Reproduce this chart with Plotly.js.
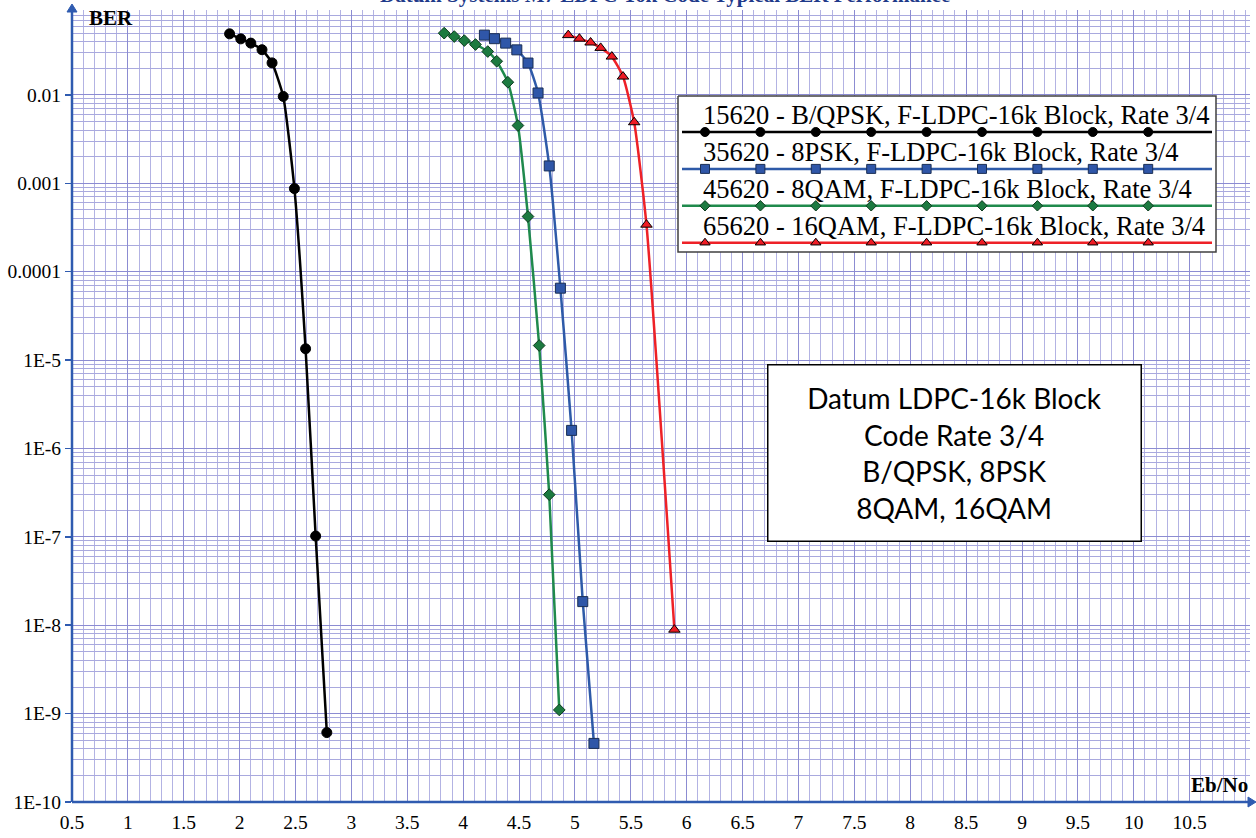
<!DOCTYPE html>
<html>
<head>
<meta charset="utf-8">
<script src="https://cdn.plot.ly/plotly-3.0.1.min.js"></script>
<style>
html,body{margin:0;padding:0;background:#fff;}
#chart{width:1256px;height:838px;}
</style>
</head>
<body>
<div id="chart"></div>
<script>
// ---------------- data ----------------
const seriesNames = [
  "15620 - B/QPSK, F-LDPC-16k Block, Rate 3/4",
  "35620 - 8PSK, F-LDPC-16k Block, Rate 3/4",
  "45620 - 8QAM, F-LDPC-16k Block, Rate 3/4",
  "65620 - 16QAM, F-LDPC-16k Block, Rate 3/4"
];
const bqpskX = [1.91, 2.01, 2.10, 2.20, 2.29, 2.39, 2.49, 2.59, 2.68, 2.78];
const bqpskY = [0.049, 0.043, 0.0385, 0.0324, 0.023, 0.0096, 0.00087, 1.34e-5, 1.02e-7, 6.1e-10];
const psk8X = [4.19, 4.28, 4.38, 4.48, 4.58, 4.67, 4.77, 4.87, 4.97, 5.07, 5.17];
const psk8Y = [0.0474, 0.0432, 0.0385, 0.0323, 0.0229, 0.0105, 0.00157, 6.5e-5, 1.6e-6, 1.85e-8, 4.6e-10];
const qam8X = [3.83, 3.92, 4.01, 4.11, 4.22, 4.30, 4.40, 4.49, 4.58, 4.68, 4.77, 4.86];
const qam8Y = [0.0499, 0.0457, 0.0411, 0.0371, 0.0309, 0.024, 0.0139, 0.0045, 0.00042, 1.46e-5, 3.0e-7, 1.1e-9];
const qam16X = [4.94, 5.04, 5.14, 5.23, 5.33, 5.43, 5.53, 5.64, 5.89];
const qam16Y = [0.0474, 0.0432, 0.0391, 0.034, 0.0271, 0.0161, 0.0049, 0.00034, 8.9e-9];

const xTickVals = [0.5,1,1.5,2,2.5,3,3.5,4,4.5,5,5.5,6,6.5,7,7.5,8,8.5,9,9.5,10,10.5];
const xTickText = ["0.5","1","1.5","2","2.5","3","3.5","4","4.5","5","5.5","6","6.5","7","7.5","8","8.5","9","9.5","10","10.5"];
const yTickVals = [1e-2,1e-3,1e-4,1e-5,1e-6,1e-7,1e-8,1e-9,1e-10];
const yTickText = ["0.01","0.001","0.0001","1E-5","1E-6","1E-7","1E-8","1E-9","1E-10"];

const titleText = "Datum Systems M7 LDPC-16k Code Typical BER Performance";
const boxText = ["Datum LDPC-16k Block","Code Rate 3/4","B/QPSK, 8PSK","8QAM, 16QAM"];

// ---------------- styles ----------------
const W = 1256, H = 838;
const M = {l:72, r:6, t:10, b:36};
const PX0 = M.l, PX1 = W - M.r, PY0 = M.t, PY1 = H - M.b;
const AXIS_BLUE = "#2f5bb0";
const SERIF = "Liberation Serif, Times New Roman, serif";

const styles = [
  {line:"#000000", fill:"#000000", edge:"#000000", symbol:"circle", size:10},
  {line:"#2e5aa8", fill:"#2f56a8", edge:"#1b2f55", symbol:"square", size:10},
  {line:"#1f8a4c", fill:"#1c7a40", edge:"#0d3b1e", symbol:"diamond", size:9},
  {line:"#ee2127", fill:"#ee1c24", edge:"#000000", symbol:"triangle-up", size:10}
];
const xs = [bqpskX, psk8X, qam8X, qam16X];
const ys = [bqpskY, psk8Y, qam8Y, qam16Y];

const traces = [];
// legend box as a filled trace on the overlay (pixel) axes, so it sits above the grid
const LB = {x0:678, x1:1216, y0:96, y1:252};
traces.push({
  x:[LB.x0,LB.x1,LB.x1,LB.x0,LB.x0], y:[LB.y0,LB.y0,LB.y1,LB.y1,LB.y0],
  xaxis:"x2", yaxis:"y2", mode:"lines", fill:"toself", fillcolor:"#ffffff",
  line:{color:"#404040", width:1.5}, hoverinfo:"skip", showlegend:false
});
// data traces
for (let i=0;i<4;i++){
  const s = styles[i];
  traces.push({
    x: xs[i], y: ys[i], name: seriesNames[i], type:"scatter", mode:"lines+markers",
    line:{color:s.line, width:2.5, shape:"spline", smoothing:0.5},
    marker:{symbol:s.symbol, size:s.size, color:s.fill, line:{color:s.edge, width:1}},
    showlegend:false
  });
}
// custom legend samples
const legLineX0 = 682, legLineX1 = 1212, legMk0 = 705, legMkStep = 55.4, legY0 = 132, legStep = 36.9;
const annotations = [];
for (let i=0;i<4;i++){
  const s = styles[i];
  const ly = legY0 + i*legStep;
  traces.push({x:[legLineX0, legLineX1], y:[ly, ly], xaxis:"x2", yaxis:"y2", mode:"lines",
    line:{color:s.line, width:2.5}, hoverinfo:"skip", showlegend:false});
  const mx = [], my = [];
  for (let k=0;k<9;k++){ mx.push(legMk0 + k*legMkStep); my.push(ly); }
  traces.push({x:mx, y:my, xaxis:"x2", yaxis:"y2", mode:"markers",
    marker:{symbol:s.symbol, size: s.symbol==="circle"?9:(s.symbol==="diamond"?8:9), color:s.fill, line:{color:s.edge, width:1}},
    hoverinfo:"skip", showlegend:false});
  annotations.push({xref:"x2", yref:"y2", x:701, y:ly-17, xanchor:"left", yanchor:"middle",
    text:seriesNames[i], showarrow:false, font:{family:SERIF, size:26.5, color:"#000"}});
}

// helpers pixel -> paper
const px2x = p => (p-PX0)/(PX1-PX0);
const px2y = p => (PY1-p)/(PY1-PY0);

// axis captions
annotations.push({xref:"paper", yref:"paper", x:px2x(87), y:px2y(18), xanchor:"left", yanchor:"middle",
  text:"<b>BER</b>", showarrow:false, font:{family:SERIF, size:21, color:"#000"}});
annotations.push({xref:"paper", yref:"paper", x:px2x(1250), y:px2y(785), xanchor:"right", yanchor:"middle",
  text:"<b>Eb/No</b>", showarrow:false, font:{family:SERIF, size:21, color:"#000"}});
// title: clipped at the very top, as in the reference
annotations.push({xref:"paper", yref:"paper", x:px2x(665), y:px2y(9), xanchor:"center", yanchor:"bottom",
  text:"<b>"+titleText+"</b>", showarrow:false, font:{family:SERIF, size:21, color:"#1f3a8a"}});
// text box
annotations.push({xref:"paper", yref:"paper", x:px2x((767+1141)/2), y:px2y((365+542)/2), xanchor:"center", yanchor:"middle",
  text:boxText.join("<br>"), showarrow:false, align:"center",
  width:372, height:175, bgcolor:"#ffffff", bordercolor:"#000000", borderwidth:1.5, borderpad:0,
  font:{family:"Lato, Open Sans, sans-serif", size:28, color:"#000"}});

const shapes = [
  // axis lines
  {type:"line", xref:"paper", yref:"paper", x0:0, x1:1, y0:0, y1:0, line:{color:AXIS_BLUE, width:2.5}, layer:"above"},
  {type:"line", xref:"paper", yref:"paper", x0:0, x1:0, y0:0, y1:1, line:{color:AXIS_BLUE, width:2.5}, layer:"above"},
  // arrow heads
  {type:"path", xref:"paper", yref:"paper", xsizemode:"pixel", ysizemode:"pixel", xanchor:1, yanchor:0,
   path:"M -2 -5 L 6 0 L -2 5 Z", fillcolor:AXIS_BLUE, line:{color:AXIS_BLUE, width:1}, layer:"above"},
  {type:"path", xref:"paper", yref:"paper", xsizemode:"pixel", ysizemode:"pixel", xanchor:0, yanchor:1,
   path:"M -5 -2 L 0 6 L 5 -2 Z", fillcolor:AXIS_BLUE, line:{color:AXIS_BLUE, width:1}, layer:"above"}
];

const layout = {
  width:W, height:H, margin:M, paper_bgcolor:"#fff", plot_bgcolor:"#fff", showlegend:false,
  xaxis:{
    type:"linear", range:[0.5, 11.04], tickmode:"array", tickvals:xTickVals, ticktext:xTickText,
    showgrid:true, gridcolor:"#8c8cd2", gridwidth:1, zeroline:false, showline:false, ticks:"",
    tickfont:{family:SERIF, size:19.5, color:"#000"}, ticklabelstandoff:6,
    minor:{dtick:0.1, tick0:0, showgrid:true, gridcolor:"#b3b3e3", gridwidth:1, ticks:""}
  },
  yaxis:{
    type:"log", range:[-10, -1.04], tickmode:"array", tickvals:yTickVals, ticktext:yTickText,
    showgrid:true, gridcolor:"#8c8cd2", gridwidth:1, zeroline:false, showline:false,
    ticks:"outside", ticklen:6, tickcolor:AXIS_BLUE, tickwidth:1.5,
    tickfont:{family:SERIF, size:19.5, color:"#000"},
    minor:{dtick:"D1", showgrid:true, gridcolor:"#a9a9de", gridwidth:1, ticks:""}
  },
  xaxis2:{overlaying:"x", range:[PX0, PX1], visible:false, fixedrange:true},
  yaxis2:{overlaying:"y", range:[PY1, PY0], visible:false, fixedrange:true},
  annotations: annotations,
  shapes: shapes
};

Plotly.newPlot("chart", traces, layout, {displayModeBar:false, staticPlot:true});
</script>
</body>
</html>
